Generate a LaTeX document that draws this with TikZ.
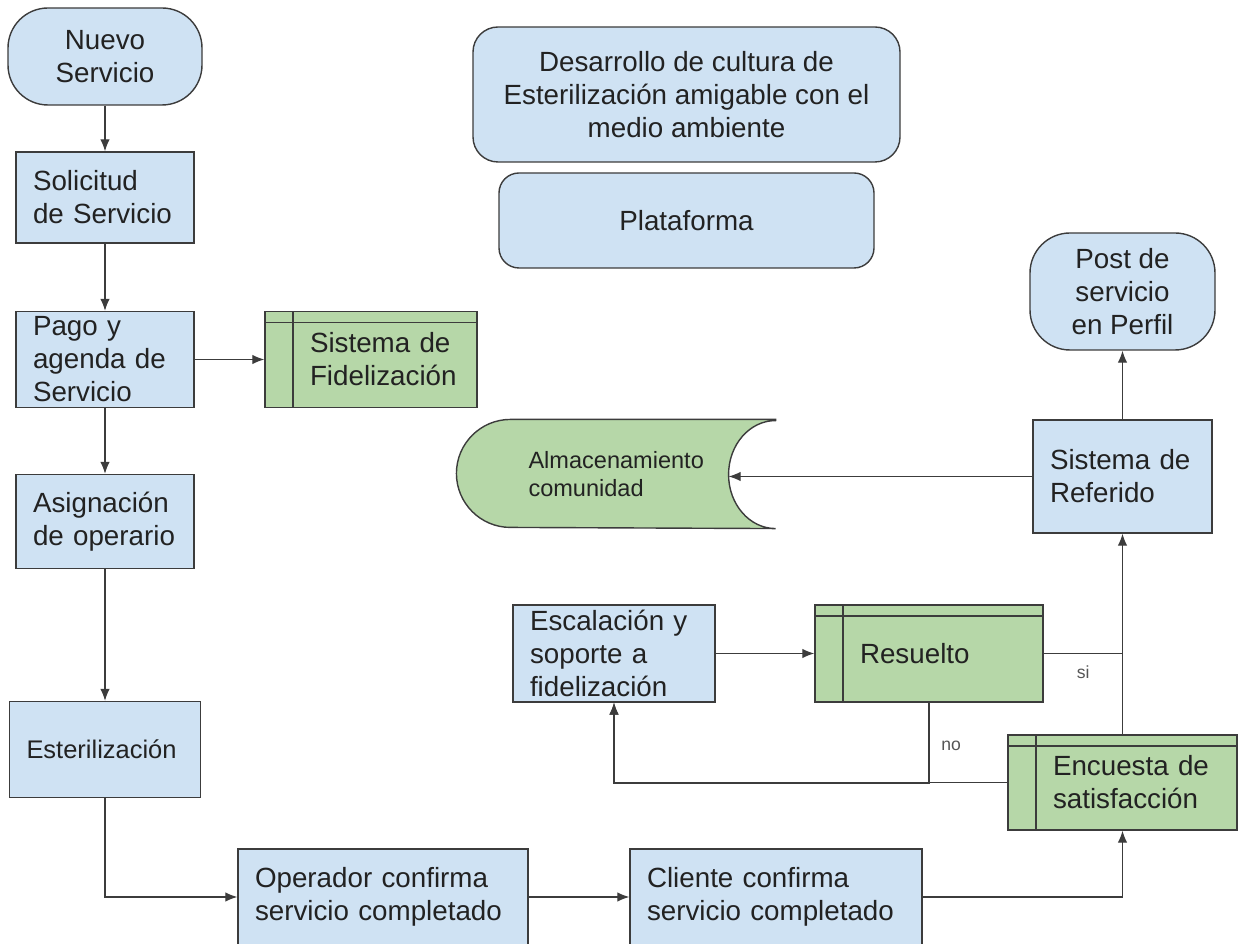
\documentclass[tikz,border=0pt]{standalone}
\usepackage{fontspec}
\setmainfont{Liberation Sans}
\usetikzlibrary{backgrounds, arrows.meta}
\definecolor{bluefill}{HTML}{CFE2F3}
\definecolor{greenfill}{HTML}{B6D7A8}
\definecolor{edge}{HTML}{3C3C3C}
\definecolor{txt}{HTML}{222222}
\definecolor{labelgray}{HTML}{555555}
\tikzstyle{startstop} = [rectangle, rounded corners=0.8cm, draw=edge, fill=bluefill, align=center, line width=0.8pt]
\tikzstyle{process} = [rectangle, draw=edge, fill=bluefill, align=left, inner xsep=0.1cm, inner ysep=0.02cm, line width=0.8pt]
\tikzstyle{subprocess} = [rectangle, draw=edge, fill=greenfill, align=left, inner xsep=0.1cm, inner ysep=0.02cm, line width=0.8pt,
    execute at begin node={\leftskip=0.8cm},
    path picture={\draw[edge, line width=0.8pt] ([xshift=0.56cm]path picture bounding box.north west) -- ([xshift=0.56cm]path picture bounding box.south west);
                  \draw[edge, line width=0.8pt] ([yshift=-0.22cm]path picture bounding box.north west) -- ([yshift=-0.22cm]path picture bounding box.north east);}]
\tikzstyle{platform} = [rectangle, rounded corners=0.5cm, draw=edge, fill=bluefill, align=center, line width=0.8pt]
\tikzstyle{storage} = [rectangle, align=left, inner sep=0pt, font=\fontsize{13.4}{15.5}\selectfont]
\tikzstyle{lbl} = [font=\fontsize{10}{12}\selectfont, text=labelgray, inner sep=1pt]

\begin{document}
\begin{tikzpicture}[node distance=3.24cm, >={Latex[length=2.4mm,width=1.9mm]}, line width=0.65pt, draw=edge,
    every node/.style={text=txt, font=\fontsize{15.8}{18.8}\selectfont}]
    \useasboundingbox (0,0) rectangle (24.76,18.88);

    % left column
    \node(nuevo)[startstop, minimum width=3.88cm, minimum height=1.94cm] at (2.10,17.75) {Nuevo\\Servicio};
    \node(solicitud)[process, below of=nuevo, yshift=0.42cm, minimum width=3.56cm, minimum height=1.82cm, text width=2.88cm]{Solicitud\\de Servicio};
    \node(pago)[process, below of=solicitud, minimum width=3.56cm, minimum height=1.92cm, text width=2.88cm]{Pago y\\agenda de\\Servicio};
    \node(fidel)[subprocess, right of=pago, xshift=2.08cm, minimum width=4.24cm, minimum height=1.92cm, text width=4.04cm]{Sistema de\\Fidelización};
    \node(asig)[process, below of=pago, minimum width=3.56cm, minimum height=1.88cm, text width=2.88cm]{Asignación\\de operario};
    \node(ester)[process, below of=asig, yshift=-1.32cm, minimum width=3.82cm, minimum height=1.92cm, text width=3.14cm, font=\fontsize{14.5}{17}\selectfont]{Esterilización};

    \node(operador)[process, minimum width=5.80cm, minimum height=1.92cm, text width=5.12cm] at (7.66,0.94) {Operador confirma\\servicio completado};
    \node(cliente)[process, right of=operador, xshift=4.62cm, minimum width=5.84cm, minimum height=1.92cm, text width=5.16cm]{Cliente confirma\\servicio completado};

    % top
    \node(cultura)[platform, minimum width=8.54cm, minimum height=2.70cm] at (13.73,16.99) {Desarrollo de cultura de\\Esterilización amigable con el\\medio ambiente};
    \node(plataforma)[platform, below of=cultura, yshift=0.72cm, rounded corners=0.4cm, minimum width=7.50cm, minimum height=1.90cm]{Plataforma};

    % right side
    \node(encuesta)[subprocess, minimum width=4.58cm, minimum height=1.90cm, text width=4.38cm] at (22.45,3.23) {Encuesta de\\satisfacción};
    \node(resuelto)[subprocess, minimum width=4.56cm, minimum height=1.94cm, text width=4.36cm] at (18.58,5.81) {Resuelto};
    \node(escal)[process, left of=resuelto, xshift=-3.06cm, minimum width=4.04cm, minimum height=1.94cm, text width=3.36cm]{Escalación y\\soporte a\\fidelización};
    \node(referido)[process, minimum width=3.58cm, minimum height=2.26cm, text width=2.90cm] at (22.45,9.35) {Sistema de\\Referido};
    \node(post)[startstop, above of=referido, yshift=0.46cm, minimum width=3.70cm, minimum height=2.34cm]{Post de\\servicio\\en Perfil};

    \node(store)[storage, minimum width=6.36cm, minimum height=2.16cm, text width=3.5cm] at (12.32,9.40) {Almacenamiento\\comunidad};
    \begin{scope}[on background layer]
        \draw[edge, fill=greenfill, line width=0.8pt] (store.north east) -- ([xshift=1.08cm]store.north west)
            arc[start angle=90, end angle=270, radius=1.08cm] -- (store.south east)
            arc[start angle=270, end angle=90, x radius=0.94cm, y radius=1.08cm] -- cycle;
    \end{scope}
    \coordinate(storein) at ([xshift=-0.94cm]store.east);

    \draw[->] (nuevo) -- (solicitud);
    \draw[->] (solicitud) -- (pago);
    \draw[->] (pago) -- (fidel);
    \draw[->] (pago) -- (asig);
    \draw[->] (asig) -- (ester);
    \draw[->] (ester.south) |- (operador.west);
    \draw[->] (operador) -- (cliente);
    \draw[->] (cliente.east) -| (encuesta.south);
    \draw[->] (encuesta.north) -- (referido.south);
    \draw[->] (referido.north) -- (post.south);
    \draw[->] (referido.west) -- (referido.west -| storein);
    \draw[->] (escal) -- (resuelto);
    \draw (resuelto.east) -- (resuelto.east -| encuesta.north) node[lbl, midway, below=0.2cm](si){si};

    \coordinate(noturn) at ([yshift=-0.025cm]resuelto.south |- encuesta.west);
    \draw[->] (resuelto.south) -- (noturn) node[lbl, pos=0.53, right=0.2cm](no){no} -| (escal.south);
    \draw[->] (encuesta.west) -| (escal.south);

\end{tikzpicture}
\end{document}
